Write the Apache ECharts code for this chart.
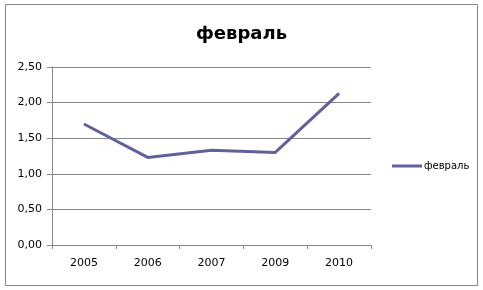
<!DOCTYPE html>
<html><head><meta charset="utf-8">
<script src="https://cdn.jsdelivr.net/npm/echarts@6/dist/echarts.min.js"></script>
<style>html,body{margin:0;padding:0;background:#fff}#c{width:483px;height:290px}</style>
</head><body><div id="c"></div>
<script>
const categories = ['2005', '2006', '2007', '2009', '2010'];
const seriesName = 'февраль';
const values = [1.70, 1.23, 1.33, 1.30, 2.13];
const yTicks = [0, 0.5, 1, 1.5, 2, 2.5];

const chart = echarts.init(document.getElementById('c'), null, {renderer: 'canvas'});
const lineColor = '#62629a';
const axisFont = 'Tahoma, "DejaVu Sans", sans-serif';
chart.setOption({
  animation: false,
  backgroundColor: '#fff',
  graphic: [{
    type: 'rect', shape: {x: 5.5, y: 4.5, width: 472, height: 281},
    style: {fill: 'none', stroke: '#888', lineWidth: 1}, silent: true
  }],
  title: {
    text: seriesName, left: 'center', top: 20,
    textStyle: {fontFamily: '"DejaVu Sans", sans-serif', fontWeight: 'bold', fontSize: 18, color: '#000'}
  },
  legend: {
    data: [seriesName], left: 387, top: 156, itemWidth: 30, itemHeight: 3, itemGap: 4,
    icon: 'rect',
    textStyle: {fontFamily: axisFont, fontSize: 10, color: '#000', padding: [0,0,0,-3]}
  },
  grid: {left: 52, right: 112, top: 67, bottom: 45, containLabel: false},
  xAxis: {
    type: 'category', data: categories, boundaryGap: true,
    axisLine: {lineStyle: {color: '#868686', width: 1}},
    axisTick: {show: true, length: 4, lineStyle: {color: '#868686'}},
    axisLabel: {fontFamily: axisFont, fontSize: 11, color: '#000', margin: 13}
  },
  yAxis: {
    type: 'value', min: 0, max: 2.5, interval: 0.5,
    axisLine: {show: true, lineStyle: {color: '#868686', width: 1}},
    axisTick: {show: true, length: 5, lineStyle: {color: '#868686'}},
    splitLine: {lineStyle: {color: '#868686', width: 1}},
    axisLabel: {fontFamily: axisFont, fontSize: 11, color: '#000', margin: 10,
      formatter: v => v.toFixed(2).replace('.', ',')}
  },
  series: [{
    name: seriesName, type: 'line', data: values, symbol: 'none',
    lineStyle: {color: lineColor, width: 3}, itemStyle: {color: lineColor}
  }]
});
</script></body></html>
